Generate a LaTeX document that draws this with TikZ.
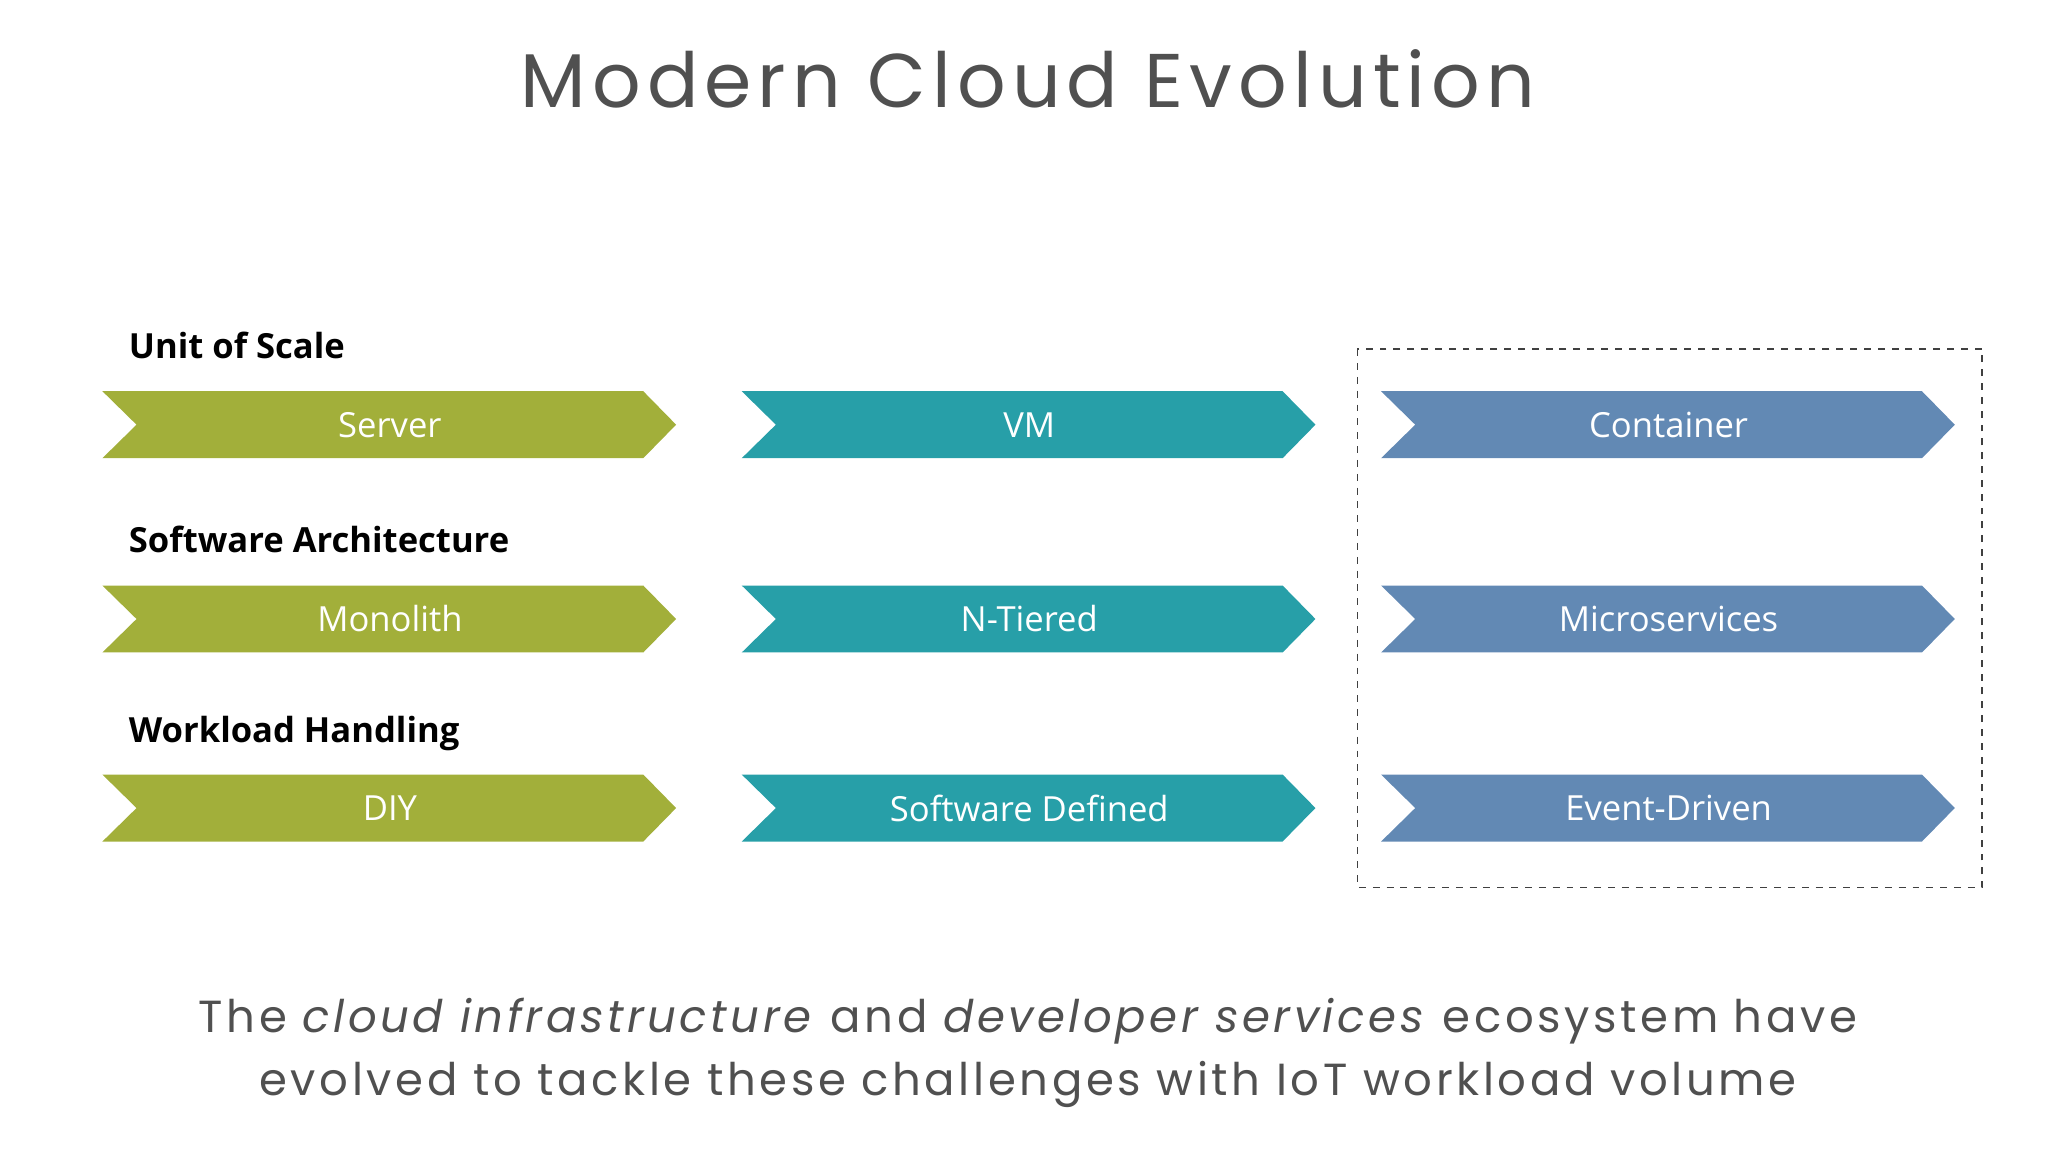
\documentclass[tikz,border=0pt]{standalone}
\usepackage{fontspec}
\setmainfont{Open Sans}
\newfontfamily\thinfont[LetterSpace=8]{Poppins}
\definecolor{cgreen}{HTML}{A2AF3A}
\definecolor{cteal}{HTML}{279FA8}
\definecolor{cblue}{HTML}{6289B4}
\definecolor{ctext}{HTML}{505050}
\begin{document}
\begin{tikzpicture}[x=0.02cm,y=-0.02cm]
\useasboundingbox (0,0) rectangle (1560,877.5);
\tikzset{lab/.style={font=\fontsize{15}{18}\selectfont\bfseries,anchor=west}}
\newcommand{\chev}[5]{% x, ytop, color, name, text
  \fill[#3] (#1,#2) -- ++(412,0) -- ++(25,25.5) -- ++(-25,25.5) -- ++(-412,0) -- ++(26,-25.5) -- cycle;
  \node[text=white,font=\fontsize{15}{18}\selectfont] (#4) at ({#1+219},{#2+25.5}) {#5};}
\node[font=\thinfont\fontsize{33}{40}\selectfont,text=ctext] (title) at (783,60) {Modern Cloud Evolution};
\node[lab] (h1) at (92,263) {Unit of Scale};
\node[lab] (h2) at (92,411) {Software Architecture};
\node[lab] (h3) at (92,559) {Workload Handling};
\chev{78}{298}{cgreen}{a1}{Server}
\chev{565}{298}{cteal}{b1}{VM}
\chev{1052}{298}{cblue}{c1}{Container}
\chev{78}{446}{cgreen}{a2}{Monolith}
\chev{565}{446}{cteal}{b2}{N-Tiered}
\chev{1052}{446}{cblue}{c2}{Microservices}
\chev{78}{590}{cgreen}{a3}{DIY}
\chev{565}{590}{cteal}{b3}{Software Defined}
\chev{1052}{590}{cblue}{c3}{Event-Driven}
\draw[dashed,thick,black!75] (1034,266) rectangle (1510,676);
\node[font=\thinfont\fontsize{19.5}{27}\selectfont,text=ctext,align=center] (foot) at (783,802)
 {The \textit{cloud infrastructure} and \textit{developer services} ecosystem have\\ evolved to tackle these challenges with IoT workload volume};
\end{tikzpicture}
\end{document}
